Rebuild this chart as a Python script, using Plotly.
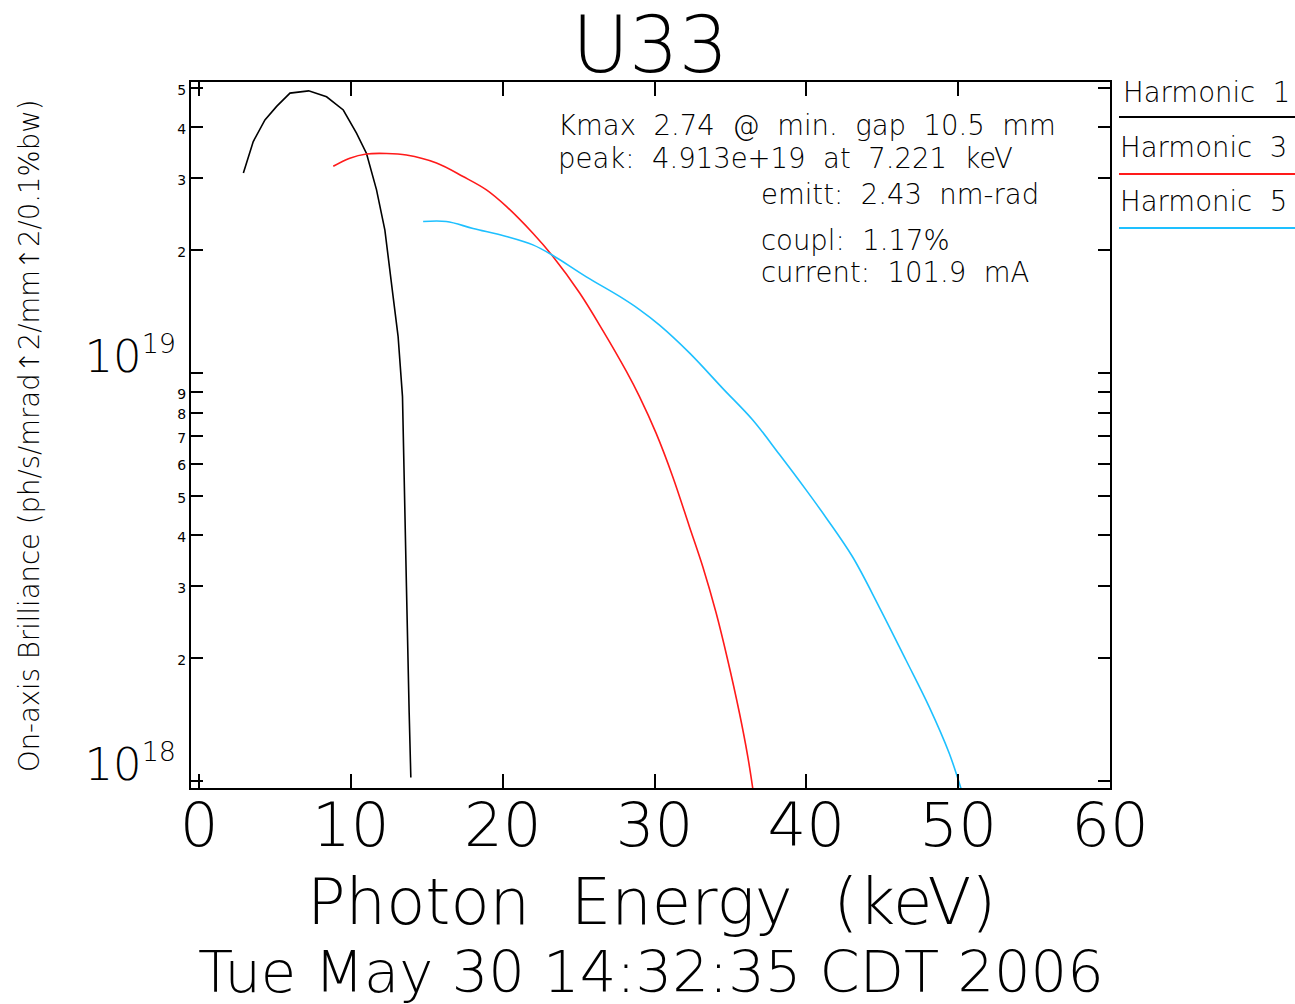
import plotly.graph_objects as go

# ---------------- data ----------------
energy_h1 = [2.92, 3.57, 4.34, 5.11, 5.99, 7.22, 8.40, 9.50, 10.37, 11.03, 11.69,
             12.24, 12.78, 13.11, 13.40, 13.47, 13.66, 13.84, 13.95]
bril_h1 = [3.09e19, 3.69e19, 4.17e19, 4.50e19, 4.85e19, 4.913e19, 4.75e19, 4.41e19,
           3.87e19, 3.45e19, 2.81e19, 2.24e19, 1.54e19, 1.23e19, 8.75e18, 6.85e18,
           3.0e18, 1.47e18, 1.02e18]

energy_h3 = [8.84, 9.93, 11.03, 12.35, 13.66, 15.64, 17.39, 18.93, 20.24, 21.99, 23.31,
             25.07, 26.60, 28.14, 29.01, 30.11, 31.20, 32.30, 33.18, 34.06, 34.82,
             35.59, 36.14, 36.47]
bril_h3 = [3.21e19, 3.36e19, 3.44e19, 3.45e19, 3.42e19, 3.27e19, 3.03e19, 2.81e19,
           2.56e19, 2.20e19, 1.93e19, 1.57e19, 1.27e19, 1.01e19, 8.75e18, 7.11e18,
           5.57e18, 4.20e18, 3.35e18, 2.58e18, 1.98e18, 1.47e18, 1.15e18, 0.96e18]

energy_h5 = [14.76, 16.29, 18.05, 20.24, 21.99, 23.31, 25.51, 27.70, 29.01, 30.33,
             32.30, 34.49, 36.47, 38.22, 39.98, 41.30, 43.05, 44.80, 46.56, 48.09,
             49.41, 50.18]
bril_h5 = [2.35e19, 2.35e19, 2.26e19, 2.16e19, 2.06e19, 1.94e19, 1.72e19, 1.54e19,
           1.43e19, 1.31e19, 1.12e19, 9.17e18, 7.67e18, 6.32e18, 5.17e18, 4.42e18,
           3.54e18, 2.67e18, 1.98e18, 1.52e18, 1.17e18, 0.96e18]

series_names = ["Harmonic 1", "Harmonic 3", "Harmonic 5"]
series_colors = ["#000000", "#ff1a1a", "#1ec0ff"]
series_shapes = ["linear", "spline", "spline"]

x_tick_vals = [0, 10, 20, 30, 40, 50, 60]
x_tick_text = ["0", "10", "20", "30", "40", "50", "60"]

y_minor_vals = [2e18, 3e18, 4e18, 5e18, 6e18, 7e18, 8e18, 9e18, 2e19, 3e19, 4e19, 5e19]
y_minor_text = ["2", "3", "4", "5", "6", "7", "8", "9", "2", "3", "4", "5"]
y_major_vals = [1e18, 1e19]
y_major_text = ['10<sup><span style="font-size:27px">18</span></sup>',
                '10<sup><span style="font-size:27px">19</span></sup>']

title_text = "U33"
x_title = "Photon\u00a0 Energy\u00a0 (keV)"
y_title = "On-axis Brilliance (ph/s/mrad\u21912/mm\u21912/0.1%bw)"
date_text = "Tue May 30 14:32:35 CDT 2006"
info_lines = ["Kmax\u00a0 2.74\u00a0 @\u00a0 min.\u00a0 gap\u00a0 10.5\u00a0 mm",
              "peak:\u00a0 4.913e+19\u00a0 at\u00a0 7.221\u00a0 keV",
              "emitt:\u00a0 2.43\u00a0 nm-rad",
              "coupl:\u00a0 1.17%",
              "current:\u00a0 101.9\u00a0 mA"]

FONT = "DejaVu Sans"
WT = 200

# ---------------- figure ----------------
fig = go.Figure()
for xs, ys, name, col, shp in zip([energy_h1, energy_h3, energy_h5],
                                  [bril_h1, bril_h3, bril_h5],
                                  series_names, series_colors, series_shapes):
    fig.add_trace(go.Scatter(x=xs, y=ys, mode="lines", name=name,
                             line=dict(color=col, width=1.6, shape=shp, smoothing=1.0),
                             showlegend=False))
# empty trace so the overlay axis (major labels) is rendered
fig.add_trace(go.Scatter(x=[], y=[], yaxis="y2", showlegend=False, hoverinfo="skip"))

L, R, T, B = 191, 185, 82, 216
W, H = 1295, 1004
pw, ph = W - L - R, H - T - B


def px(xp):
    return (xp - L) / pw


def py(yp):
    return (H - B - yp) / ph


def f(size):
    return dict(family=FONT, size=size, color="black", weight=WT)


yr = [17.983, 19.713]

fig.update_layout(
    width=W, height=H,
    margin=dict(l=L, r=R, t=T, b=B, pad=0),
    paper_bgcolor="white", plot_bgcolor="white",
    font=dict(family=FONT, color="black"),
    xaxis=dict(range=[-0.53, 60], tickvals=x_tick_vals, ticktext=x_tick_text,
               ticks="inside", ticklen=14, tickwidth=1.5, tickcolor="black",
               showline=True, linewidth=2, linecolor="black", mirror="ticks",
               showgrid=False, zeroline=False,
               tickfont=f(61), ticklabelstandoff=-17),
    yaxis=dict(type="log", range=yr,
               tickvals=y_major_vals + y_minor_vals,
               ticktext=["", ""] + y_minor_text,
               ticks="inside", ticklen=12, tickwidth=1.5, tickcolor="black",
               showline=True, linewidth=2, linecolor="black", mirror="ticks",
               showgrid=False, zeroline=False,
               tickfont=dict(family=FONT, size=14, color="black"),
               ticklabelshift=2),
    yaxis2=dict(type="log", range=yr, overlaying="y", side="left",
                tickvals=y_major_vals, ticktext=y_major_text,
                ticks="", showline=False, showgrid=False, zeroline=False,
                tickfont=f(45),
                ticklabelshift=-17, ticklabelstandoff=14),
)

ann = []
ann.append(dict(text=title_text, x=px(650), y=py(45), xref="paper", yref="paper",
                xanchor="center", yanchor="middle", showarrow=False, font=f(78)))
ann.append(dict(text=x_title, x=px(651), y=py(902), xref="paper", yref="paper",
                xanchor="center", yanchor="middle", showarrow=False, font=f(64)))
ann.append(dict(text=date_text, x=px(651), y=py(972), xref="paper", yref="paper",
                xanchor="center", yanchor="middle", showarrow=False, font=f(57.5)))
ann.append(dict(text=y_title, x=px(29), y=py(436), xref="paper", yref="paper",
                xanchor="center", yanchor="middle", showarrow=False, textangle=-90,
                font=f(27.5)))

info_pos = [(556, 125), (556, 158), (759, 193.5), (759, 240), (759, 271.5)]
for t, (xx, yy) in zip(info_lines, info_pos):
    ann.append(dict(text=t, x=px(xx), y=py(yy), xref="paper", yref="paper",
                    xanchor="left", yanchor="middle", showarrow=False, font=f(27.5)))

leg_text_pos = [(1121, 92), (1118, 147), (1118, 201.5)]
leg_line_y = [117, 174, 228]
shapes = []
for name, col, (xx, yy), ly in zip(series_names, series_colors, leg_text_pos, leg_line_y):
    ann.append(dict(text=name.replace(" ", "\u00a0 "), x=px(xx), y=py(yy),
                    xref="paper", yref="paper", xanchor="left", yanchor="middle",
                    showarrow=False, font=f(27.5)))
    shapes.append(dict(type="line", xref="paper", yref="paper",
                       x0=px(1119), x1=px(1295), y0=py(ly), y1=py(ly),
                       line=dict(color=col, width=2)))

fig.update_layout(annotations=ann, shapes=shapes)

fig.write_html("out.html",
               config={"displayModeBar": False},
               post_script="document.body.style.margin='0px';"
                           "document.body.style.overflow='hidden';")
